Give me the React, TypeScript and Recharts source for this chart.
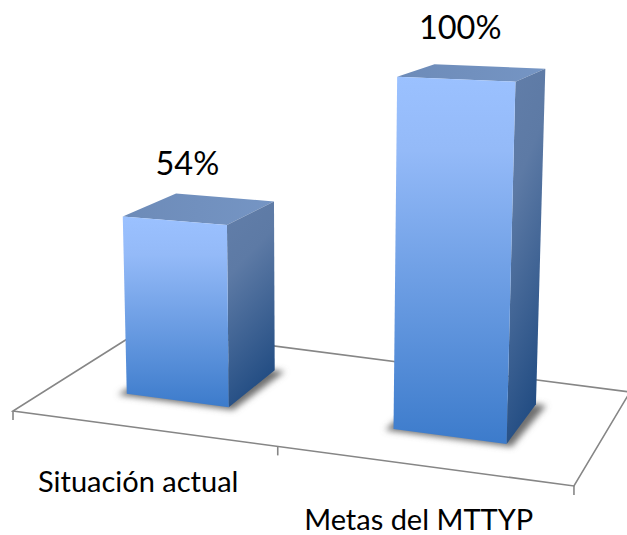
import { BarChart, Bar, XAxis, YAxis, LabelList } from 'recharts';

const categories = ['Situación actual', 'Metas del MTTYP'];
const values = [54, 100];
const chartData = categories.map((name, i) => ({ name, value: values[i] }));

const W = 627;
const H = 535;
const TOP = 60;
const AXIS_H = 60;
const PLOT_H = H - TOP - AXIS_H;
const FONT = 'Lato, sans-serif';

// floor of the 3D box: unit square -> screen (front-left, front-right, back-right, back-left)
const G = -0.02397;
const K = 0.1547;
const floorPt = (u: number, v: number) => {
  const w = G * u + K * v + 1;
  return { x: (547.2 * u + 152.1 * v + 13) / w, y: (63.35 * u - 31.1 * v + 411) / w };
};

// vertical edges converge on a far vanishing point, nearer things are drawn taller
const VP = { x: 310, y: 8500 };
const lift = (p: { x: number; y: number }, frac: number) => {
  const y = p.y - frac * (313 + 0.676 * (p.y - 371));
  return { x: VP.x + ((p.x - VP.x) * (VP.y - y)) / (VP.y - p.y), y };
};

const pts = (list: { x: number; y: number }[]) => list.map((p) => `${p.x},${p.y}`).join(' ');

// footprint of a bar on the floor; bars further right come out a bit wider
const footprint = (x: number, width: number) => {
  const center = (x + width / 2) / W;
  const half = ((width / W) * (0.965 + 0.16 * (center - 0.25))) / 2;
  const mid = center - 0.014 + 0.015 * (center - 0.5);
  return { u0: mid - half, u1: mid + half };
};
const V0 = 0.295;
const V1 = 0.73;

function Box3D({ x, width, height }: any) {
  const { u0, u1 } = footprint(x, width);
  const frac = height / PLOT_H;
  const fl = floorPt(u0, V0);
  const fr = floorPt(u1, V0);
  const br = floorPt(u1, V1);
  const bl = floorPt(u0, V1);
  const tfl = lift(fl, frac);
  const tfr = lift(fr, frac);
  const tbr = lift(br, frac);
  const tbl = lift(bl, frac);
  const shadow = [
    floorPt(u0 - 0.012, V0 - 0.02),
    floorPt(u1 + 0.012, V0 - 0.02),
    floorPt(u1 + 0.02, V1),
    floorPt(u0, V1),
  ];
  return (
    <g>
      <polygon points={pts(shadow)} fill="#6f6f6f" filter="url(#barShadow)" />
      <polygon points={pts([tfl, tfr, tbr, tbl])} fill="url(#topFace)" />
      <polygon points={pts([tfr, tbr, br, fr])} fill="url(#sideFace)" />
      <polygon points={pts([tfl, tfr, fr, fl])} fill="url(#frontFace)" />
    </g>
  );
}

function ValueLabel({ x, width, height, value }: any) {
  const { u0, u1 } = footprint(x, width);
  const frac = height / PLOT_H;
  const a = lift(floorPt(u0, V0), frac);
  const b = lift(floorPt(u1, V1), frac);
  return (
    <text
      x={(a.x + b.x) / 2 - 11}
      y={(a.y + b.y) / 2 - 34}
      textAnchor="middle"
      fontFamily={FONT}
      fontSize={32.5}
      fill="#000"
    >
      {value}%
    </text>
  );
}

function CategoryTick({ x, payload }: any) {
  const p = floorPt(x / W, 0);
  return (
    <text x={p.x - 12.5} y={p.y + 63} textAnchor="middle" fontFamily={FONT} fontSize={29} fill="#000">
      {payload.value}
    </text>
  );
}

function Floor() {
  const corners = [floorPt(0, 1), floorPt(0, 0), floorPt(1, 0), floorPt(1, 1)];
  return (
    <g>
      <defs>
        <linearGradient id="frontFace" x1="0" y1="0" x2="0" y2="1">
          <stop offset="0" stopColor="#9BC1FF" />
          <stop offset="0.2" stopColor="#94BAF8" />
          <stop offset="1" stopColor="#3C7BCB" />
        </linearGradient>
        <linearGradient id="sideFace" x1="0" y1="0" x2="0.25" y2="1">
          <stop offset="0" stopColor="#627EA9" />
          <stop offset="0.35" stopColor="#5D7AA5" />
          <stop offset="1" stopColor="#244E84" />
        </linearGradient>
        <linearGradient id="topFace" x1="0" y1="0" x2="1" y2="0">
          <stop offset="0" stopColor="#6D8BB8" />
          <stop offset="1" stopColor="#7595C4" />
        </linearGradient>
        <filter id="barShadow" x="-20%" y="-20%" width="140%" height="140%">
          <feGaussianBlur stdDeviation="3" />
        </filter>
      </defs>
      <polyline
        points={pts([...corners, corners[0]])}
        fill="#fff"
        stroke="#868686"
        strokeWidth={1.6}
      />
      {[0, 0.478, 1].map((u) => {
        const p = floorPt(u, 0);
        return <line key={u} x1={p.x} y1={p.y} x2={p.x} y2={p.y + 9} stroke="#868686" strokeWidth={1.6} />;
      })}
    </g>
  );
}

export default function App() {
  return (
    <div style={{ position: 'absolute', left: 0, top: 0, width: W, height: H }}>
      <BarChart
        width={W}
        height={H}
        data={chartData}
        margin={{ top: TOP, right: 0, left: 0, bottom: 0 }}
        barCategoryGap="30%"
      >
        <Floor />
        <XAxis
          dataKey="name"
          height={AXIS_H}
          axisLine={false}
          tickLine={false}
          interval={0}
          tick={CategoryTick}
        />
        <YAxis hide domain={[0, 100]} />
        <Bar dataKey="value" isAnimationActive={false} shape={(props: any) => <Box3D {...props} />}>
          <LabelList dataKey="value" content={(props: any) => <ValueLabel {...props} />} />
        </Bar>
      </BarChart>
    </div>
  );
}
